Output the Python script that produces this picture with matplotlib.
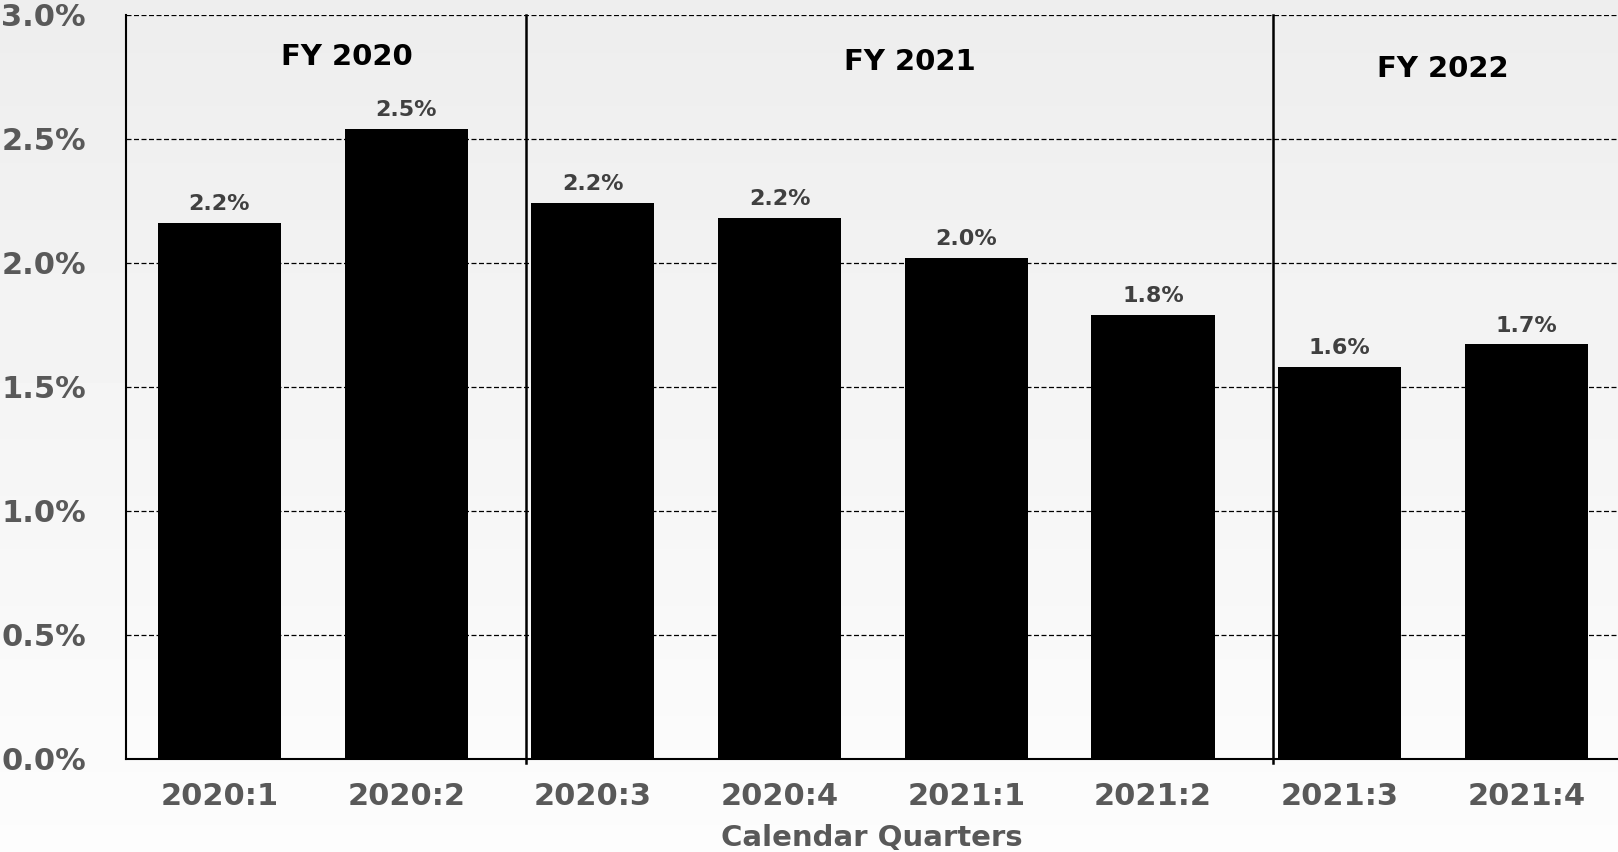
import numpy as np
import matplotlib
matplotlib.use('Agg')
import matplotlib.pyplot as plt

# quarterly values (percent)
quarters = ['2020:1', '2020:2', '2020:3', '2020:4', '2021:1', '2021:2', '2021:3', '2021:4']
values = [2.16, 2.54, 2.24, 2.18, 2.02, 1.79, 1.58, 1.67]
labels = ['2.2%', '2.5%', '2.2%', '2.2%', '2.0%', '1.8%', '1.6%', '1.7%']
fy_names = ['FY 2020', 'FY 2021', 'FY 2022']
fy_x = [0.68, 3.70, 6.55]
fy_y = [2.83, 2.81, 2.78]
fy_breaks = [1.64, 5.64]

plt.rcParams['font.family'] = 'DejaVu Sans'
plt.rcParams['font.weight'] = 'bold'

fig = plt.figure(figsize=(16.18, 8.52), dpi=100)

# soft grey-to-white background
bg = fig.add_axes([0, 0, 1, 1], zorder=-10)
grad = np.linspace(0.93, 0.99, 256).reshape(-1, 1)
bg.imshow(grad, aspect='auto', cmap='gray', vmin=0, vmax=1, extent=[0, 1, 0, 1])
bg.axis('off')

ax = fig.add_axes([0.0779, 0.1097, 0.9221, 0.873])
ax.set_facecolor('none')

x = np.arange(len(quarters))
ax.bar(x, values, width=0.66, color='black', zorder=3)

for xi, v, lab in zip(x, values, labels):
    ax.text(xi, v + 0.035, lab, ha='center', va='bottom', fontsize=16,
            fontweight='bold', color='#404040', zorder=4)

for name, fx, fyy in zip(fy_names, fy_x, fy_y):
    ax.text(fx, fyy, name, ha='center', va='center', fontsize=21,
            fontweight='bold', color='black', zorder=4)

for b in fy_breaks:
    ax.plot([b, b], [-0.02, 3.0], color='black', lw=1.8, zorder=4, clip_on=False)

ax.set_xlim(-0.5, 7.49)
ax.set_ylim(0, 3.0)
ax.set_yticks(np.arange(0, 3.01, 0.5))
ax.set_yticklabels(['{:.1f}%'.format(t) for t in np.arange(0, 3.01, 0.5)])
ax.set_xticks(x)
ax.set_xticklabels(quarters)
ax.tick_params(axis='y', length=0, pad=29, labelsize=22, labelcolor='#595959')
ax.tick_params(axis='x', length=0, pad=17, labelsize=22, labelcolor='#595959')
for t in ax.get_xticklabels() + ax.get_yticklabels():
    t.set_fontweight('bold')

ax.yaxis.grid(True, linestyle=(0, (4, 2)), color='black', lw=0.9, zorder=1)
ax.set_axisbelow(True)

ax.spines['right'].set_visible(False)
ax.spines['top'].set_visible(False)
ax.spines['left'].set_linewidth(1.5)
ax.spines['bottom'].set_linewidth(1.5)

ax.set_xlabel('Calendar Quarters', fontsize=21, fontweight='bold', color='#595959', labelpad=9)

fig.savefig('out.png', dpi=100)
